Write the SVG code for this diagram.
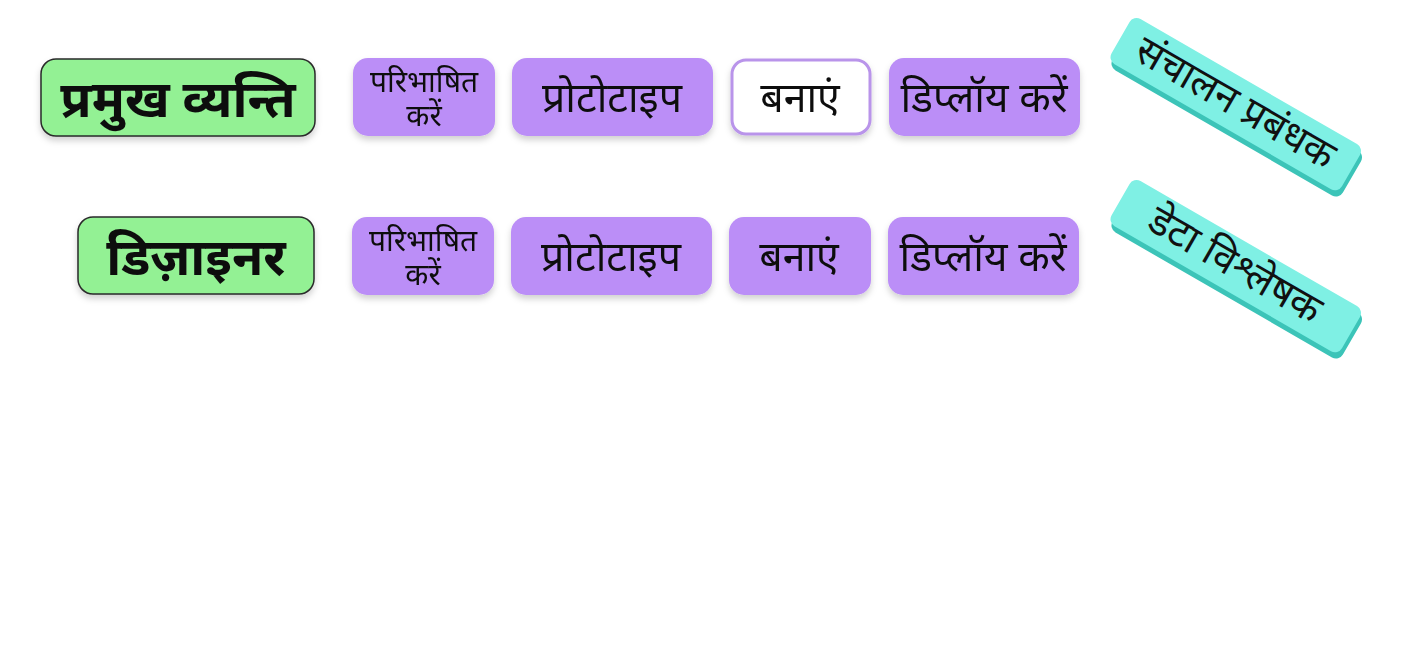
<svg xmlns="http://www.w3.org/2000/svg" width="1409" height="662" viewBox="0 0 1409 662">
<defs>
<filter id="sh" x="-20%" y="-20%" width="140%" height="160%">
<feDropShadow dx="0" dy="4" stdDeviation="3" flood-color="#000" flood-opacity="0.18"/>
</filter>
<style>
.t{font-family:"Noto Sans","Noto Sans Devanagari","Lohit Devanagari","DejaVu Sans",sans-serif;fill:#111;text-anchor:middle;dominant-baseline:central}
.g{fill:#93f194;stroke:#2a2a2a;stroke-width:1.5}
.p{fill:#bb8ef7}
.w{fill:#fff;stroke:#b994ea;stroke-width:3}
.c{fill:#7ff0e4}
.cd{fill:#3cc4b8}
.big{font-size:51px;font-weight:bold}
.mid{font-size:41px}
.sm{font-size:30px}
.rot{font-size:40px}
</style>
</defs>
<rect width="1409" height="662" fill="#fff"/>
<g id="row1">
<g id="n-pramukh" filter="url(#sh)"><rect class="g" x="41" y="59" width="274" height="77" rx="15"/><text class="t big" x="178" y="97">प्रमुख व्यन्ति</text></g>
<g id="n-paribhashit1" filter="url(#sh)"><rect class="p" x="353" y="58" width="142" height="78" rx="15"/><text class="t sm" x="424" y="80">परिभाषित</text><text class="t sm" x="424" y="114">करें</text></g>
<g id="n-prototype1" filter="url(#sh)"><rect class="p" x="512" y="58" width="201" height="78" rx="15"/><text class="t mid" x="612" y="96">प्रोटोटाइप</text></g>
<g id="n-banaen1" filter="url(#sh)"><rect class="w" x="732" y="60" width="138" height="74" rx="14"/><text class="t mid" x="800" y="96">बनाएं</text></g>
<g id="n-deploy1" filter="url(#sh)"><rect class="p" x="889" y="58" width="191" height="78" rx="15"/><text class="t mid" x="984" y="96">डिप्लॉय करें</text></g>
</g>
<g id="row2">
<g id="n-designer" filter="url(#sh)"><rect class="g" x="78" y="217" width="236" height="77" rx="15"/><text class="t big" x="196" y="255">डिज़ाइनर</text></g>
<g id="n-paribhashit2" filter="url(#sh)"><rect class="p" x="352" y="217" width="142" height="78" rx="15"/><text class="t sm" x="423" y="239">परिभाषित</text><text class="t sm" x="423" y="273">करें</text></g>
<g id="n-prototype2" filter="url(#sh)"><rect class="p" x="511" y="217" width="201" height="78" rx="15"/><text class="t mid" x="611" y="255">प्रोटोटाइप</text></g>
<g id="n-banaen2" filter="url(#sh)"><rect class="p" x="729" y="217" width="142" height="78" rx="15"/><text class="t mid" x="799" y="255">बनाएं</text></g>
<g id="n-deploy2" filter="url(#sh)"><rect class="p" x="888" y="217" width="191" height="78" rx="15"/><text class="t mid" x="983" y="255">डिप्लॉय करें</text></g>
</g>
<g id="n-sanchalan" transform="translate(1237,106) rotate(30)">
<rect class="cd" x="-131" y="-22" width="266" height="52" rx="8"/>
<rect class="c" x="-135" y="-27" width="266" height="52" rx="8"/>
<text class="t rot" x="-3" y="-4">संचालन प्रबंधक</text>
</g>
<g id="n-data" transform="translate(1237,268) rotate(30)">
<rect class="cd" x="-131" y="-22" width="266" height="52" rx="8"/>
<rect class="c" x="-135" y="-27" width="266" height="52" rx="8"/>
<text class="t rot" x="-3" y="-4">डेटा विश्लेषक</text>
</g>
<g id="connectors"></g>
</svg>
